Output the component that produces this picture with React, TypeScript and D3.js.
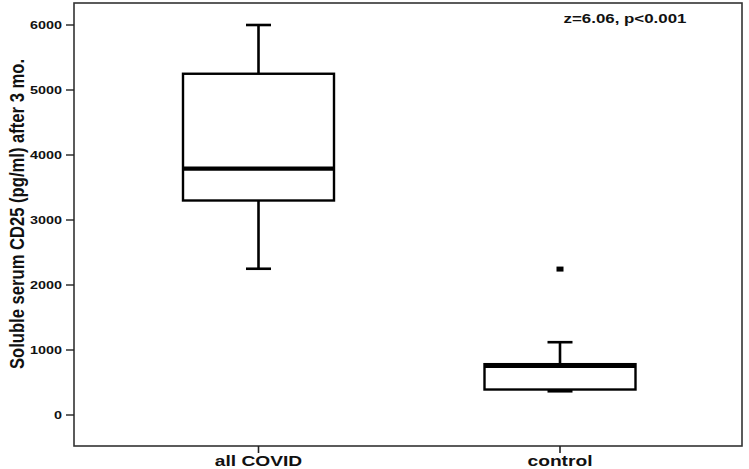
import React from "react";
import * as d3 from "d3";

const groups = ["all COVID", "control"];
const mins = [2250, 365];
const q1s = [3300, 392];
const medians = [3790, 755];
const q3s = [5250, 782];
const maxs = [6000, 1120];
const outliers = [[], [2245]];
const tickValues = [0, 1000, 2000, 3000, 4000, 5000, 6000];
const yTitle = "Soluble serum CD25 (pg/ml) after 3 mo.";
const note = "z=6.06, p<0.001";

const W = 749;
const H = 469;
const frame = { left: 74, top: 3, right: 742, bottom: 446 };
const font = "'Liberation Sans', Arial, sans-serif";
const sx = 1.3; // the source picture is stretched sideways

export default function App() {
  const y = d3.scaleLinear().domain([0, 6000]).range([415, 25]);
  const x = d3.scalePoint().domain(groups).range([258.5, 560]);
  const boxW = 151;
  const capW = 25;

  return (
    <svg width={W} height={H} style={{ position: "absolute", left: 0, top: 0, background: "#fff" }}>
      <rect
        x={frame.left}
        y={frame.top}
        width={frame.right - frame.left}
        height={frame.bottom - frame.top}
        fill="none"
        stroke="#333"
        strokeWidth={1.6}
      />

      {/* y axis */}
      {tickValues.map(t => (
        <g key={t}>
          <line x1={66} x2={frame.left} y1={y(t)} y2={y(t)} stroke="#222" strokeWidth={1.4} />
          <text
            transform={`translate(62,${y(t)}) scale(1.37,1)`}
            dy="0.36em"
            textAnchor="end"
            fontFamily={font}
            fontWeight="bold"
            fontSize={10.5}
            fill="#111"
          >
            {t}
          </text>
        </g>
      ))}
      <text
        transform={`translate(24,214) scale(${sx},1) rotate(-90)`}
        textAnchor="middle"
        fontFamily={font}
        fontWeight="bold"
        fontSize={16}
        textLength={310}
        lengthAdjust="spacingAndGlyphs"
        fill="#111"
      >
        {yTitle}
      </text>

      {/* x axis */}
      {groups.map(g => (
        <g key={g}>
          <line x1={x(g)} x2={x(g)} y1={frame.bottom} y2={453} stroke="#222" strokeWidth={1.6} />
          <text
            transform={`translate(${x(g)},466) scale(1.28,1)`}
            textAnchor="middle"
            fontFamily={font}
            fontWeight="bold"
            fontSize={15}
            fill="#111"
          >
            {g}
          </text>
        </g>
      ))}

      {/* boxes */}
      {groups.map((g, i) => {
        const cx = x(g) as number;
        return (
          <g key={g} stroke="#000" fill="none">
            <line x1={cx} x2={cx} y1={y(maxs[i])} y2={y(q3s[i])} strokeWidth={2.6} />
            <line x1={cx} x2={cx} y1={y(q1s[i])} y2={y(mins[i])} strokeWidth={2.6} />
            <line x1={cx - capW / 2} x2={cx + capW / 2} y1={y(maxs[i])} y2={y(maxs[i])} strokeWidth={2.6} />
            <line x1={cx - capW / 2} x2={cx + capW / 2} y1={y(mins[i])} y2={y(mins[i])} strokeWidth={2.6} />
            <rect
              x={cx - boxW / 2}
              y={y(q3s[i])}
              width={boxW}
              height={y(q1s[i]) - y(q3s[i])}
              fill="#fff"
              strokeWidth={2.4}
            />
            <line x1={cx - boxW / 2} x2={cx + boxW / 2} y1={y(medians[i])} y2={y(medians[i])} strokeWidth={4.2} />
            {outliers[i].map((o, j) => (
              <rect key={j} x={cx - 3.5} y={y(o) - 2.5} width={7} height={5} fill="#000" stroke="none" />
            ))}
          </g>
        );
      })}

      <text
        transform={`translate(625,23) scale(${sx},1)`}
        textAnchor="middle"
        fontFamily={font}
        fontWeight="bold"
        fontSize={13}
        fill="#111"
      >
        {note}
      </text>
    </svg>
  );
}
